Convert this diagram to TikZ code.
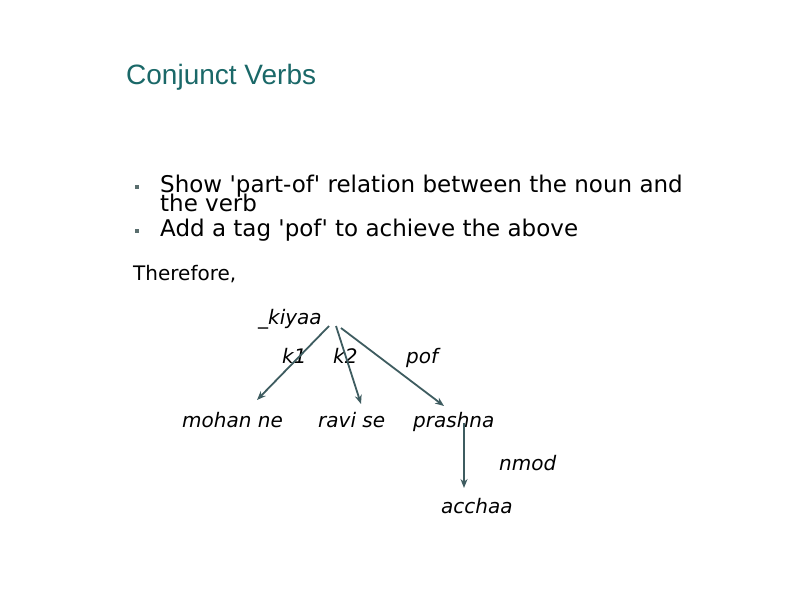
\documentclass[tikz,border=0pt]{standalone}
\usepackage{fontspec}
\setmainfont{DejaVu Sans}
\newfontfamily\titlefont{Liberation Sans}
\usetikzlibrary{arrows.meta}
\definecolor{titleteal}{RGB}{26,104,104}
\definecolor{arrowgray}{RGB}{62,92,96}
\definecolor{bulletgray}{RGB}{90,110,110}
\tikzset{
  titletext/.style={anchor=base west, inner sep=0pt, text=titleteal, font=\titlefont\fontsize{28}{30}\selectfont},
  bodytext/.style={anchor=base west, inner sep=0pt, font=\fontsize{23}{25}\selectfont},
  plaintext/.style={anchor=base west, inner sep=0pt, font=\fontsize{20}{22}\selectfont},
  treetext/.style={anchor=base west, inner sep=0pt, font=\itshape\fontsize{20}{22}\selectfont},
  bulletbox/.style={fill=bulletgray, minimum size=4pt, inner sep=0pt},
  deparrow/.style={draw=arrowgray, line width=1.8pt, -{Stealth[length=9pt,width=7pt]}}
}
\begin{document}
\begin{tikzpicture}[x=1pt,y=-1pt]
\useasboundingbox (0,0) rectangle (794,595);
\fill[white] (0,0) rectangle (794,595);
\node[titletext] (title) at (126,84) {Conjunct Verbs};
\node[bulletbox] (b1) at (137,187) {};
\node[bulletbox] (b2) at (137,231) {};
\node[bodytext] (l1) at (160,192) {Show \textquotesingle part-of\textquotesingle\ relation between the noun and};
\node[bodytext] (l2) at (160,211) {the verb};
\node[bodytext] (l3) at (160,236) {Add a tag \textquotesingle pof\textquotesingle\ to achieve the above};
\node[plaintext] (therefore) at (133,280) {Therefore,};
\node[treetext] (kiyaa) at (258,324) {\_kiyaa};
\node[treetext] (k1) at (282,363) {k1};
\node[treetext] (k2) at (333,363) {k2};
\node[treetext] (pof) at (406,363) {pof};
\node[treetext] (mohan) at (182,427) {mohan ne};
\node[treetext] (ravi) at (318,427) {ravi se};
\node[treetext] (prashna) at (413,427) {prashna};
\node[treetext] (nmod) at (499,470) {nmod};
\node[treetext] (acchaa) at (441,513) {acchaa};
\coordinate (s1) at (329,326);
\coordinate (s2) at (336,326);
\coordinate (s3) at (341,328);
\coordinate (e1) at (257,400);
\coordinate (e2) at (361,404);
\coordinate (e3) at (444,406);
\coordinate (s4) at (464,423);
\coordinate (e4) at (464,488);
\draw[deparrow] (s1) -- (e1);
\draw[deparrow] (s2) -- (e2);
\draw[deparrow] (s3) -- (e3);
\draw[deparrow] (s4) -- (e4);
\end{tikzpicture}
\end{document}
